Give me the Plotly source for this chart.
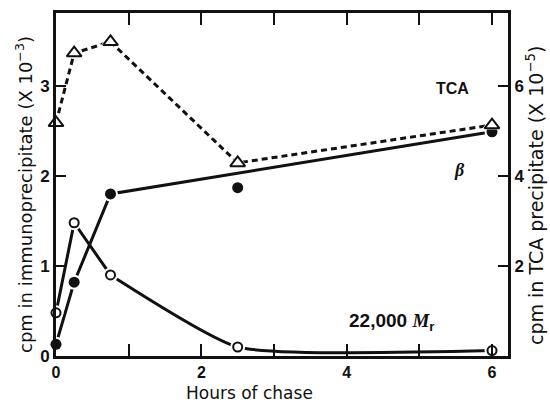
import plotly.graph_objects as go

# Hours of chase
hours = [0, 0.25, 0.75, 2.5, 6]

# 22,000 Mr protein in immunoprecipitate (cpm x 10^-3)
mr22000 = [0.48, 1.48, 0.90, 0.10, 0.06]
# beta subunit in immunoprecipitate (cpm x 10^-3)
beta = [0.13, 0.82, 1.80, 1.87, 2.49]
# total TCA precipitate (cpm x 10^-5)
tca = [5.18, 6.73, 6.98, 4.29, 5.13]

# fitted beta line runs through these time points only
beta_line_hours = [0, 0.25, 0.75, 6]

x_tick_vals = [0, 2, 4, 6]
x_minor_vals = [1, 3, 5]
y_tick_vals = [0, 1, 2, 3]
y2_tick_vals = [2, 4, 6]

BLACK = "#111111"
TITLE_FONT = "DejaVu Sans"
TICK_FONT = "Liberation Sans"

fig = go.Figure()

# beta line
bl_y = [beta[hours.index(h)] for h in beta_line_hours]
fig.add_trace(go.Scatter(x=beta_line_hours, y=bl_y, mode="lines",
                         line=dict(color=BLACK, width=3), hoverinfo="skip"))

# 22,000 Mr line: straight rise and fall, then smooth decay
fig.add_trace(go.Scatter(x=hours[:3], y=mr22000[:3], mode="lines",
                         line=dict(color=BLACK, width=3), hoverinfo="skip"))
fig.add_trace(go.Scatter(x=hours[2:], y=mr22000[2:], mode="lines",
                         line=dict(color=BLACK, width=3, shape="spline", smoothing=0.5),
                         hoverinfo="skip"))

# TCA dashed line on secondary axis
fig.add_trace(go.Scatter(x=hours, y=tca, mode="lines", yaxis="y2",
                         line=dict(color=BLACK, width=3, dash="6px,4px"), hoverinfo="skip"))

# white halos so the lines stop short of the symbols
fig.add_trace(go.Scatter(x=hours, y=mr22000, mode="markers", cliponaxis=False,
                         marker=dict(symbol="circle", size=15, color="white"), hoverinfo="skip"))
fig.add_trace(go.Scatter(x=hours, y=beta, mode="markers", cliponaxis=False,
                         marker=dict(symbol="circle", size=15, color="white"), hoverinfo="skip"))
fig.add_trace(go.Scatter(x=hours, y=tca, mode="markers", yaxis="y2", cliponaxis=False,
                         marker=dict(symbol="triangle-up", size=18, color="white"), hoverinfo="skip"))

# symbols
fig.add_trace(go.Scatter(x=hours, y=mr22000, mode="markers", cliponaxis=False,
                         marker=dict(symbol="circle", size=9, color="white",
                                     line=dict(color=BLACK, width=2))))
fig.add_trace(go.Scatter(x=hours, y=beta, mode="markers", cliponaxis=False,
                         marker=dict(symbol="circle", size=11, color=BLACK,
                                     line=dict(color=BLACK, width=0))))
fig.add_trace(go.Scatter(x=hours, y=tca, mode="markers", yaxis="y2", cliponaxis=False,
                         marker=dict(symbol="triangle-up", size=13, color="white",
                                     line=dict(color=BLACK, width=2))))

tick_font = dict(family=TICK_FONT, size=17, color=BLACK, weight="bold")
x_tick_font = dict(family=TICK_FONT, size=16, color=BLACK, weight="bold")

W, H = 550, 403
L, R, T, B = 56, 42, 13, 47
PW, PH = W - L - R, H - T - B

fig.update_layout(
    width=W, height=H,
    margin=dict(l=L, r=R, t=T, b=B, autoexpand=False),
    paper_bgcolor="white", plot_bgcolor="white",
    showlegend=False,
    xaxis=dict(range=[0, 6.22], tickvals=x_tick_vals,
               ticks="inside", ticklen=12, tickwidth=2, tickcolor=BLACK,
               minor=dict(tickvals=x_minor_vals, ticks="inside", ticklen=12,
                          tickwidth=2, tickcolor=BLACK, showgrid=False),
               showline=True, linewidth=3, linecolor=BLACK, mirror="ticks",
               showgrid=False, zeroline=False, tickfont=x_tick_font, automargin=False),
    yaxis=dict(range=[0, 3.81], tickvals=y_tick_vals,
               ticks="inside", ticklen=10, tickwidth=2, tickcolor=BLACK,
               showline=True, linewidth=3, linecolor=BLACK,
               showgrid=False, zeroline=False, tickfont=tick_font, automargin=False),
    yaxis2=dict(range=[0, 7.62], tickvals=y2_tick_vals,
                overlaying="y", side="right",
                ticks="inside", ticklen=10, tickwidth=2, tickcolor=BLACK,
                showline=True, linewidth=3, linecolor=BLACK,
                showgrid=False, zeroline=False, tickfont=tick_font, automargin=False),
)


def px_to_paper(px, py):
    # paper coordinates span the plotting area between the margins
    return (px - L) / PW, 1 - (py - T) / PH


def add_text(px, py, text, font, angle=0):
    x, y = px_to_paper(px, py)
    fig.add_annotation(x=x, y=y, xref="paper", yref="paper", text=text,
                       showarrow=False, xanchor="center", yanchor="middle",
                       textangle=angle, font=font)


add_text(249, 393, "Hours of chase", dict(family=TITLE_FONT, size=17, color=BLACK))
add_text(24, 195, "cpm in immunoprecipitate (X 10<sup>−3</sup>)",
         dict(family=TITLE_FONT, size=18, color=BLACK), -90)
add_text(535, 196, "cpm in TCA precipitate (X 10<sup>−5</sup>)",
         dict(family=TITLE_FONT, size=19, color=BLACK), -90)

add_text(452, 88, "<b>TCA</b>", dict(family=TICK_FONT, size=16, color=BLACK))
add_text(459, 170, "<b><i>β</i></b>", dict(family="Liberation Serif", size=18, color=BLACK))
add_text(392, 322,
         "<b>22,000 </b><b><i><span style='font-family:Liberation Serif'>M</span></i><sub>r</sub></b>",
         dict(family=TICK_FONT, size=19, color=BLACK))

fig.write_html("out.html")
